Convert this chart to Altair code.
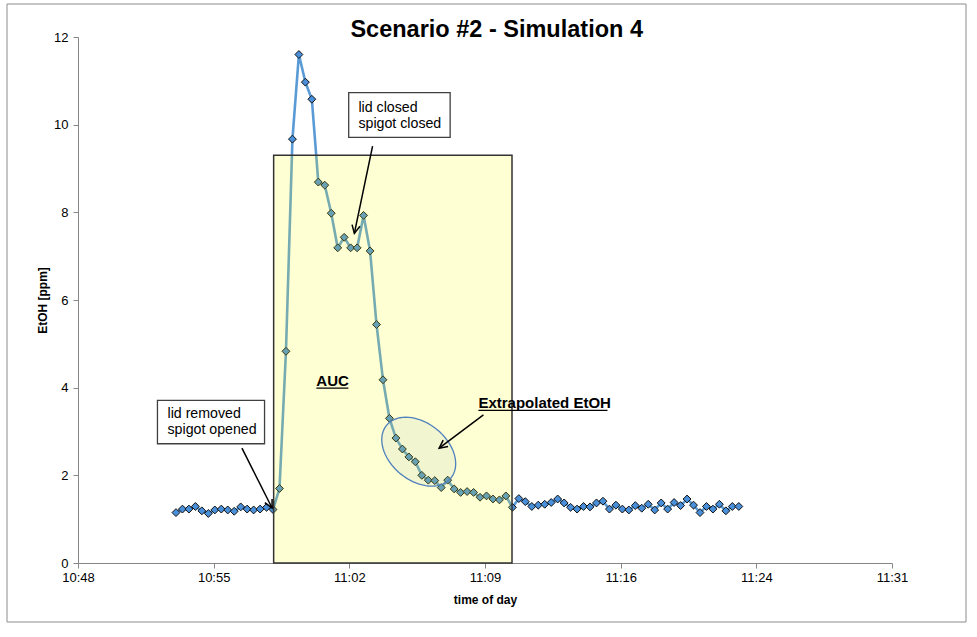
import math
import altair as alt
import pandas as pd

# ---------------- data ----------------
TITLE = "Scenario #2 - Simulation 4"
Y_TITLE = "EtOH [ppm]"
X_TITLE = "time of day"

DAY = "2000-01-01"
START = "10:53:12"      # first sample
STEP_S = 20.6           # sampling interval, seconds
ETOH = [1.15, 1.23, 1.23, 1.29, 1.19, 1.13, 1.21, 1.23, 1.21, 1.18,
        1.28, 1.23, 1.21, 1.23, 1.27, 1.22, 1.70, 4.83, 9.67, 11.60,
        10.97, 10.58, 8.69, 8.62, 7.98, 7.19, 7.43, 7.19, 7.19, 7.93,
        7.12, 5.44, 4.18, 3.30, 2.85, 2.60, 2.42, 2.31, 2.00, 1.89,
        1.88, 1.72, 1.89, 1.69, 1.61, 1.63, 1.61, 1.50, 1.53, 1.46,
        1.44, 1.53, 1.27, 1.47, 1.40, 1.29, 1.32, 1.34, 1.38, 1.46,
        1.37, 1.27, 1.23, 1.29, 1.28, 1.37, 1.41, 1.23, 1.32, 1.23,
        1.21, 1.31, 1.25, 1.34, 1.21, 1.37, 1.23, 1.38, 1.31, 1.46,
        1.32, 1.15, 1.29, 1.23, 1.34, 1.19, 1.29, 1.29]

X_TICKS = [(10, 48, 0), (10, 55, 12), (11, 2, 24), (11, 9, 36),
           (11, 16, 48), (11, 24, 0), (11, 31, 12)]
Y_TICKS = [0, 2, 4, 6, 8, 10, 12]

AUC_T = ["10:58:23", "11:11:02"]
AUC_V = [0, 9.30]

BOX_LABELS = ["lid removed", "spigot opened", "lid closed", "spigot closed"]
BOX_T = ["10:52:45", "10:52:45", "11:02:53", "11:02:53"]
BOX_V = [3.31, 2.95, 10.29, 9.93]
FRAME_T0 = ["10:52:13", "11:02:22"]
FRAME_T1 = ["10:57:54", "11:07:45"]
FRAME_V0 = [2.72, 9.71]
FRAME_V1 = [3.71, 10.73]

BOLD_LABELS = ["AUC", "Extrapolated EtOH"]
BOLD_T = ["11:00:39", "11:09:15"]
BOLD_V = [4.04, 3.54]
UL_T1 = ["11:02:21", "11:16:06"]
UL_V = [3.99, 3.48]

ARROW_T0 = ["10:56:42", "11:03:38", "11:09:31"]
ARROW_V0 = [2.62, 9.51, 3.38]
ARROW_T1 = ["10:58:18", "11:02:40", "11:07:10"]
ARROW_V1 = [1.254, 7.52, 2.62]
ARROW_ANG = [153.4, 191.8, 233.1]

ELL_T = ["11:06:05"]
ELL_V = [2.54]


def iso(hms):
    return f"{DAY}T{hms}Z"


base = pd.Timestamp(f"{DAY} {START}")
times = [(base + pd.Timedelta(seconds=STEP_S * i)).strftime("%Y-%m-%dT%H:%M:%S.%f")[:-3] + "Z"
         for i in range(len(ETOH))]
df = pd.DataFrame({"t": times, "v": ETOH})

FONT = "Liberation Sans"


def dt(h, m, s):
    return alt.DateTime(year=2000, month=1, date=1, hours=h, minutes=m, seconds=s, utc=True)


X_SCALE = alt.Scale(type="utc", domain=[dt(*X_TICKS[0]), dt(*X_TICKS[-1])])
Y_SCALE = alt.Scale(domain=[0, 12], nice=False, zero=True)

X_AXIS = alt.Axis(values=[dt(*v) for v in X_TICKS], format="%H:%M", grid=False,
                  labelFlush=False, labelOverlap=False,
                  labelFont=FONT, labelFontSize=13, labelColor="#000000", labelPadding=3,
                  tickSize=5, tickColor="#868686", domainColor="#868686",
                  title=X_TITLE, titleFont=FONT, titleFontSize=12, titleFontWeight="bold",
                  titleColor="#000000", titleY=36, titleBaseline="middle")
Y_AXIS = alt.Axis(values=Y_TICKS, grid=False, labelFlush=False,
                  labelFont=FONT, labelFontSize=13, labelColor="#000000", labelPadding=5,
                  tickSize=5, tickColor="#868686", domainColor="#868686",
                  title=Y_TITLE, titleFont=FONT, titleFontSize=12, titleFontWeight="bold",
                  titleColor="#000000", titleX=-36, titleBaseline="middle")

X = alt.X("t:T", scale=X_SCALE, axis=X_AXIS, title=X_TITLE)
Y = alt.Y("v:Q", scale=Y_SCALE, axis=Y_AXIS, title=Y_TITLE)

line = alt.Chart(df).mark_line(color="#5B9BD5", strokeWidth=2.6).encode(x=X, y=Y)
pts = alt.Chart(df).mark_point(shape="diamond", filled=True, fill="#4A8FD9", stroke="#111111",
                               strokeWidth=1, size=62, opacity=1).encode(x=X, y=Y)

auc_df = pd.DataFrame({"t": [iso(AUC_T[0])], "t2": [iso(AUC_T[1])],
                       "v": [AUC_V[0]], "v2": [AUC_V[1]]})
auc = alt.Chart(auc_df).mark_rect(fill="#FFFF00", fillOpacity=0.17, stroke="#333333",
                                  strokeWidth=1.5).encode(x=X, x2="t2:T", y=Y, y2="v2:Q")

# ellipse around the extrapolated part (fill under the series, outline on top)
ell_pts = []
for k in range(72):
    a = 2 * math.pi * k / 72
    ell_pts.append(f"{math.cos(a):.4f} {0.69 * math.sin(a):.4f}")
ELLIPSE = "M " + " L ".join(ell_pts) + " Z"
ell_df = pd.DataFrame({"t": [iso(s) for s in ELL_T], "v": ELL_V})
ell_fill = alt.Chart(ell_df).mark_point(shape=ELLIPSE, filled=True, fill="#EEF3FA", fillOpacity=1,
                                        strokeWidth=0, opacity=1,
                                        size=6922, angle=39.3).encode(x=X, y=Y)
ell_line = alt.Chart(ell_df).mark_point(shape=ELLIPSE, filled=False, stroke="#4F81BD",
                                        strokeWidth=1.3, opacity=1,
                                        size=6922, angle=39.3).encode(x=X, y=Y)

frame_df = pd.DataFrame({"t": [iso(s) for s in FRAME_T0], "t2": [iso(s) for s in FRAME_T1],
                         "v": FRAME_V0, "v2": FRAME_V1})
frames = alt.Chart(frame_df).mark_rect(fill="white", stroke="#404040", strokeWidth=1.3).encode(
    x=X, x2="t2:T", y=Y, y2="v2:Q")

box_df = pd.DataFrame({"t": [iso(s) for s in BOX_T], "v": BOX_V, "label": BOX_LABELS})
box_txt = alt.Chart(box_df).mark_text(align="left", baseline="alphabetic", font=FONT,
                                      fontSize=14.2, color="#000000").encode(x=X, y=Y, text="label:N")

bold_df = pd.DataFrame({"t": [iso(s) for s in BOLD_T], "v": BOLD_V, "label": BOLD_LABELS})
bold_txt = alt.Chart(bold_df).mark_text(align="left", baseline="alphabetic", font=FONT,
                                        fontSize=15, fontWeight="bold", color="#000000").encode(
    x=X, y=Y, text="label:N")

ul_df = pd.DataFrame({"t": [iso(s) for s in BOLD_T], "t2": [iso(s) for s in UL_T1], "v": UL_V})
ul = alt.Chart(ul_df).mark_rule(color="#000000", strokeWidth=1.3).encode(x=X, x2="t2:T", y=Y)

arr_df = pd.DataFrame({"t": [iso(s) for s in ARROW_T0], "t2": [iso(s) for s in ARROW_T1],
                       "v": ARROW_V0, "v2": ARROW_V1})
arrows = alt.Chart(arr_df).mark_rule(color="#000000", strokeWidth=1.5).encode(
    x=X, x2="t2:T", y=Y, y2="v2:Q")

CHEVRON = "M -0.45 0.9 L 0 0 L 0.45 0.9"
head_df = pd.DataFrame({"t": [iso(s) for s in ARROW_T1], "v": ARROW_V1, "ang": ARROW_ANG})
heads = alt.Chart(head_df).mark_point(shape=CHEVRON, filled=False, stroke="#000000",
                                      strokeWidth=1.5, size=324, opacity=1).encode(
    x=X, y=Y, angle=alt.Angle("ang:Q", scale=None))

title_df = pd.DataFrame({"label": [TITLE]})
title = alt.Chart(title_df).mark_text(align="center", baseline="alphabetic", font=FONT,
                                      fontSize=23.5, fontWeight="bold", color="#000000").encode(
    x=alt.value(418.7), y=alt.value(0.3), text="label:N")

border = alt.Chart(title_df).mark_rect(fill="transparent", stroke="#8C8C8C", strokeWidth=1).encode(
    x=alt.value(-71), x2=alt.value(888), y=alt.value(-33), y2=alt.value(585))

chart = alt.layer(border, ell_fill, line, pts, auc, ell_line, frames, box_txt, bold_txt, ul,
                  arrows, heads, title).properties(
    width=814, height=526,
    padding={"left": 78, "top": 37, "right": 85, "bottom": 74},
    autosize="none",
    background="white",
).configure_view(stroke=None)

chart.save("out.html", embed_options={"renderer": "svg", "actions": False})
